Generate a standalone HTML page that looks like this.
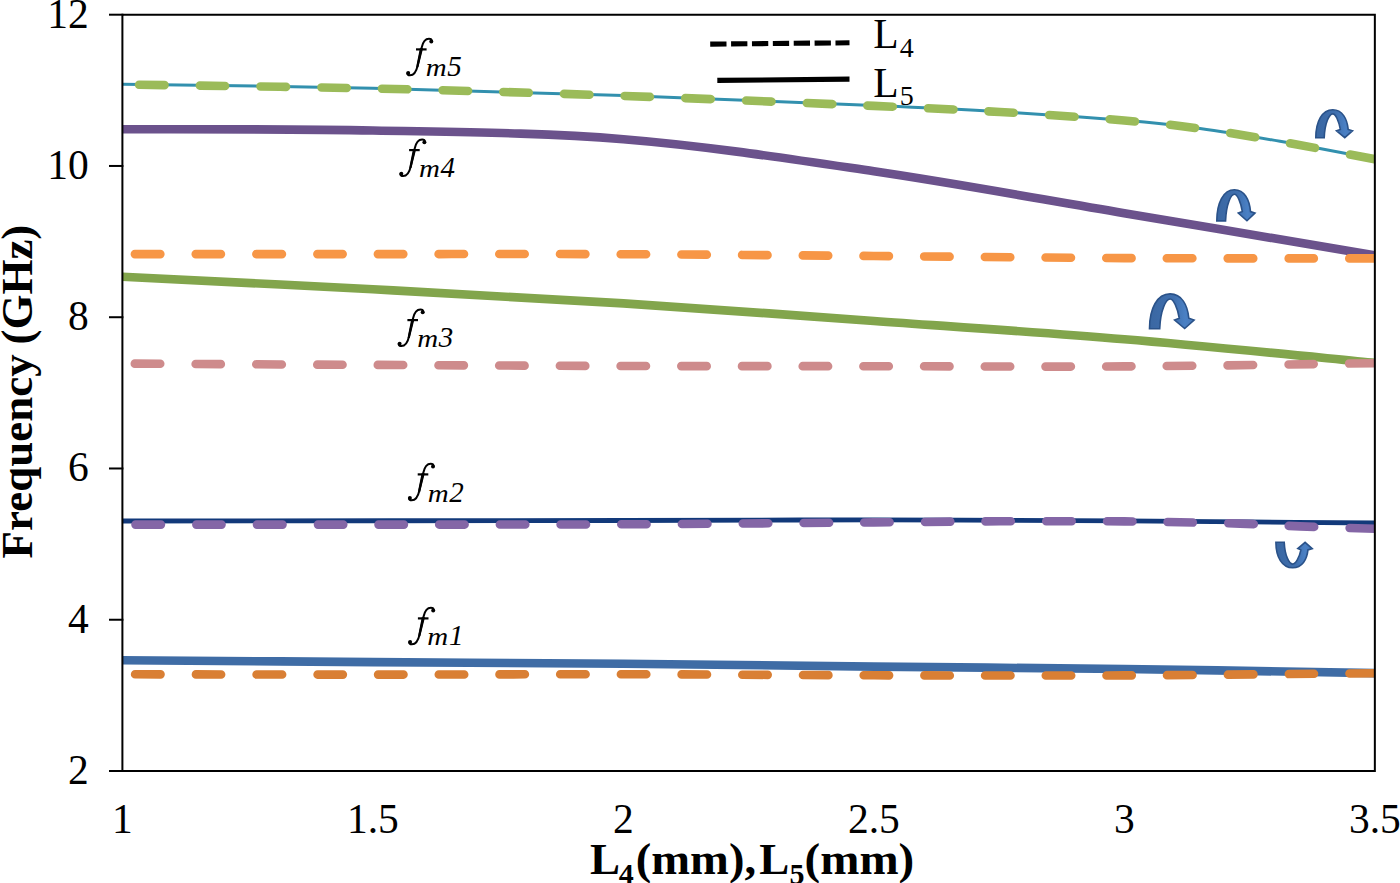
<!DOCTYPE html>
<html><head><meta charset="utf-8"><style>
html,body{margin:0;padding:0;background:#fff;}
body{width:1400px;height:883px;overflow:hidden;}
svg{display:block;}
text{font-family:"Liberation Serif",serif;fill:#000;}
</style></head><body>
<svg width="1400" height="883" viewBox="0 0 1400 883">
<defs>
<linearGradient id="ag" x1="0" y1="0" x2="1" y2="0">
<stop offset="0" stop-color="#3A67A2"/><stop offset="0.55" stop-color="#3F6FAE"/><stop offset="0.8" stop-color="#4A80C4"/><stop offset="1" stop-color="#4677B8"/>
</linearGradient>
<clipPath id="pc"><rect x="122.4" y="0" width="1252.45" height="883"/></clipPath>
</defs>
<rect width="1400" height="883" fill="#fff"/>

<g clip-path="url(#pc)">
<path d="M122.40 84.20 C164.15 84.87 289.40 86.30 372.90 88.20 C456.40 90.10 539.90 92.70 623.40 95.60 C706.90 98.50 811.13 102.92 873.90 105.60 C936.67 108.28 958.27 109.25 1000.00 111.70 C1041.73 114.15 1090.97 117.52 1124.30 120.30 C1157.63 123.08 1174.05 124.90 1200.00 128.40 C1225.95 131.90 1250.86 136.20 1280.00 141.30 C1309.14 146.40 1359.04 156.05 1374.85 159.00" fill="none" stroke="#3290AE" stroke-width="3.00" stroke-linecap="butt" stroke-linejoin="round"/>
<path d="M122.40 129.20 C164.15 129.42 289.40 128.83 372.90 130.50 C456.40 132.17 539.90 132.40 623.40 139.20 C706.90 146.00 790.42 158.97 873.90 171.30 C957.38 183.63 1040.81 199.18 1124.30 213.20 C1207.79 227.22 1333.09 248.37 1374.85 255.40" fill="none" stroke="#6B528C" stroke-width="8.60" stroke-linecap="butt" stroke-linejoin="round"/>
<path d="M122.40 276.70 C164.15 278.80 289.40 284.85 372.90 289.30 C456.40 293.75 539.90 298.12 623.40 303.40 C706.90 308.68 790.42 315.02 873.90 321.00 C957.38 326.98 1040.81 332.33 1124.30 339.30 C1207.79 346.27 1333.09 358.88 1374.85 362.80" fill="none" stroke="#82A54C" stroke-width="8.60" stroke-linecap="butt" stroke-linejoin="round"/>
<path d="M122.40 521.00 C205.90 520.92 498.15 520.68 623.40 520.50 C748.65 520.32 790.42 519.83 873.90 519.90 C957.38 519.97 1061.62 520.57 1124.30 520.90 C1186.98 521.23 1208.24 521.55 1250.00 521.90 C1291.76 522.25 1354.04 522.82 1374.85 523.00" fill="none" stroke="#12397A" stroke-width="4.80" stroke-linecap="butt" stroke-linejoin="round"/>
<path d="M122.40 660.20 C164.15 660.52 289.40 661.51 372.90 662.10 C456.40 662.69 539.90 663.00 623.40 663.75 C706.90 664.50 790.42 665.73 873.90 666.60 C957.38 667.48 1040.81 667.92 1124.30 669.00 C1207.79 670.08 1333.09 672.42 1374.85 673.10" fill="none" stroke="#3F6CA5" stroke-width="8.60" stroke-linecap="butt" stroke-linejoin="round"/>
<path d="M122.40 84.50 C164.15 85.17 289.40 86.60 372.90 88.50 C456.40 90.40 539.90 93.00 623.40 95.90 C706.90 98.80 811.13 103.22 873.90 105.90 C936.67 108.58 958.27 109.57 1000.00 112.00 C1041.73 114.43 1090.97 117.73 1124.30 120.50 C1157.63 123.27 1174.05 125.10 1200.00 128.60 C1225.95 132.10 1250.86 136.40 1280.00 141.50 C1309.14 146.60 1359.04 156.25 1374.85 159.20" fill="none" stroke="#9BBB59" stroke-width="8.60" stroke-linecap="round" stroke-dasharray="25.4 35.3" stroke-dashoffset="-16.80"/>
<path d="M122.40 254.10 C164.15 254.10 289.40 254.08 372.90 254.10 C456.40 254.12 539.90 253.88 623.40 254.20 C706.90 254.52 790.42 255.35 873.90 256.00 C957.38 256.65 1040.81 257.70 1124.30 258.10 C1207.79 258.50 1333.09 258.35 1374.85 258.40" fill="none" stroke="#F79646" stroke-width="8.60" stroke-linecap="round" stroke-dasharray="25.4 35.3" stroke-dashoffset="-12.70"/>
<path d="M122.40 363.60 C164.15 363.82 289.40 364.50 372.90 364.90 C456.40 365.30 539.90 365.78 623.40 366.00 C706.90 366.22 790.42 366.13 873.90 366.20 C957.38 366.27 1040.81 366.90 1124.30 366.40 C1207.79 365.90 1333.09 363.73 1374.85 363.20" fill="none" stroke="#CE8B8C" stroke-width="8.60" stroke-linecap="round" stroke-dasharray="25.4 35.3" stroke-dashoffset="-12.60"/>
<path d="M122.40 524.60 C164.15 524.60 289.40 524.65 372.90 524.60 C456.40 524.55 539.90 524.67 623.40 524.30 C706.90 523.93 811.13 522.90 873.90 522.40 C936.67 521.90 958.27 521.47 1000.00 521.30 C1041.73 521.13 1094.30 521.23 1124.30 521.40 C1154.30 521.57 1160.72 521.93 1180.00 522.30 C1199.28 522.67 1220.00 522.92 1240.00 523.60 C1260.00 524.28 1277.53 525.53 1300.00 526.40 C1322.47 527.27 1362.38 528.40 1374.85 528.80" fill="none" stroke="#8466A6" stroke-width="8.60" stroke-linecap="round" stroke-dasharray="25.4 35.3" stroke-dashoffset="-13.30"/>
<path d="M122.40 674.30 C164.15 674.35 289.40 674.61 372.90 674.60 C456.40 674.59 539.90 674.13 623.40 674.25 C706.90 674.37 790.42 675.11 873.90 675.30 C957.38 675.49 1040.81 675.75 1124.30 675.40 C1207.79 675.05 1333.09 673.57 1374.85 673.20" fill="none" stroke="#D97F34" stroke-width="8.60" stroke-linecap="round" stroke-dasharray="25.4 35.3" stroke-dashoffset="-12.90"/>
</g>
<g stroke="#000" stroke-width="2" fill="none" stroke-linecap="square">
<path d="M122.40 14.70 L1374.85 14.70 L1374.85 771.00 L122.40 771.00 Z"/>
<path d="M110 14.70 H122.40"/>
<path d="M110 165.96 H122.40"/>
<path d="M110 317.22 H122.40"/>
<path d="M110 468.48 H122.40"/>
<path d="M110 619.74 H122.40"/>
<path d="M110 771.00 H122.40"/>
</g>
<text x="88.7" y="27.70" font-size="41.5" text-anchor="end">12</text>
<text x="88.7" y="178.96" font-size="41.5" text-anchor="end">10</text>
<text x="88.7" y="330.22" font-size="41.5" text-anchor="end">8</text>
<text x="88.7" y="481.48" font-size="41.5" text-anchor="end">6</text>
<text x="88.7" y="632.74" font-size="41.5" text-anchor="end">4</text>
<text x="88.7" y="784.00" font-size="41.5" text-anchor="end">2</text>
<text x="122.40" y="832.6" font-size="41.5" text-anchor="middle">1</text>
<text x="372.89" y="832.6" font-size="41.5" text-anchor="middle">1.5</text>
<text x="623.38" y="832.6" font-size="41.5" text-anchor="middle">2</text>
<text x="873.87" y="832.6" font-size="41.5" text-anchor="middle">2.5</text>
<text x="1124.36" y="832.6" font-size="41.5" text-anchor="middle">3</text>
<text x="1374.85" y="832.6" font-size="41.5" text-anchor="middle">3.5</text>
<text x="590.1" y="874" font-size="45" font-weight="bold">L</text>
<text x="618.8" y="883.7" font-size="30" font-weight="bold">4</text>
<text transform="translate(635.8 874) scale(1.035 1)" font-size="45" font-weight="bold">(mm),</text>
<text x="759.2" y="874" font-size="45" font-weight="bold">L</text>
<text x="789.4" y="883.5" font-size="30" font-weight="bold">5</text>
<text transform="translate(804.6 874) scale(1.045 1)" font-size="45" font-weight="bold">(mm)</text>
<text transform="translate(31.6 558.4) rotate(-90)" font-size="45" font-weight="bold">Frequency</text>
<text transform="translate(31.6 558.4) rotate(-90)" x="213.8" font-size="45" font-weight="bold">(GHz)</text>
<path d="M710.2 44.1 L849.5 42.8" stroke="#000" stroke-width="5.1" stroke-dasharray="16.3 4.58" fill="none"/>
<path d="M717.3 80.4 L849.5 79.1" stroke="#000" stroke-width="5.1" fill="none"/>
<text x="873.3" y="48.3" font-size="41.5">L</text><text x="899.75" y="56.9" font-size="28">4</text>
<text x="873.3" y="96.7" font-size="41.5">L</text><text x="899.8" y="105.0" font-size="28">5</text>
<g transform="translate(405.80 37.80)" fill="none" stroke="#000" stroke-linecap="round"><path d="M26 3.4 C26 2 25 1 23.2 1 C19.5 1 17 4.5 15.8 10 L11.8 28 C10.5 34 7.5 37.5 4.2 37.5 C2.6 37.5 1.5 36.6 1.5 35.4" stroke-width="2"/><path d="M14.1 10.5 L17.3 10.5 L13.2 27 L12.6 29.5 L10.5 29.5 L10.8 27 Z" fill="#000" stroke="none"/><path d="M10.2 11.6 H20.8" stroke-width="2.2" stroke-linecap="butt"/><circle cx="25.5" cy="3.8" r="2.0" fill="#000" stroke="none"/><circle cx="2.4" cy="35.3" r="2.0" fill="#000" stroke="none"/></g>
<text transform="translate(425.65 76.40) scale(1 0.9)" font-size="29" font-style="italic">m</text>
<text x="447.19" y="76.40" font-size="29" font-style="italic">5</text>
<g transform="translate(398.90 138.50)" fill="none" stroke="#000" stroke-linecap="round"><path d="M26 3.4 C26 2 25 1 23.2 1 C19.5 1 17 4.5 15.8 10 L11.8 28 C10.5 34 7.5 37.5 4.2 37.5 C2.6 37.5 1.5 36.6 1.5 35.4" stroke-width="2"/><path d="M14.1 10.5 L17.3 10.5 L13.2 27 L12.6 29.5 L10.5 29.5 L10.8 27 Z" fill="#000" stroke="none"/><path d="M10.2 11.6 H20.8" stroke-width="2.2" stroke-linecap="butt"/><circle cx="25.5" cy="3.8" r="2.0" fill="#000" stroke="none"/><circle cx="2.4" cy="35.3" r="2.0" fill="#000" stroke="none"/></g>
<text transform="translate(418.95 176.90) scale(1 0.9)" font-size="29" font-style="italic">m</text>
<text x="440.49" y="176.90" font-size="29" font-style="italic">4</text>
<g transform="translate(397.20 308.50)" fill="none" stroke="#000" stroke-linecap="round"><path d="M26 3.4 C26 2 25 1 23.2 1 C19.5 1 17 4.5 15.8 10 L11.8 28 C10.5 34 7.5 37.5 4.2 37.5 C2.6 37.5 1.5 36.6 1.5 35.4" stroke-width="2"/><path d="M14.1 10.5 L17.3 10.5 L13.2 27 L12.6 29.5 L10.5 29.5 L10.8 27 Z" fill="#000" stroke="none"/><path d="M10.2 11.6 H20.8" stroke-width="2.2" stroke-linecap="butt"/><circle cx="25.5" cy="3.8" r="2.0" fill="#000" stroke="none"/><circle cx="2.4" cy="35.3" r="2.0" fill="#000" stroke="none"/></g>
<text transform="translate(417.25 346.70) scale(1 0.9)" font-size="29" font-style="italic">m</text>
<text x="438.79" y="346.70" font-size="29" font-style="italic">3</text>
<g transform="translate(407.50 462.80)" fill="none" stroke="#000" stroke-linecap="round"><path d="M26 3.4 C26 2 25 1 23.2 1 C19.5 1 17 4.5 15.8 10 L11.8 28 C10.5 34 7.5 37.5 4.2 37.5 C2.6 37.5 1.5 36.6 1.5 35.4" stroke-width="2"/><path d="M14.1 10.5 L17.3 10.5 L13.2 27 L12.6 29.5 L10.5 29.5 L10.8 27 Z" fill="#000" stroke="none"/><path d="M10.2 11.6 H20.8" stroke-width="2.2" stroke-linecap="butt"/><circle cx="25.5" cy="3.8" r="2.0" fill="#000" stroke="none"/><circle cx="2.4" cy="35.3" r="2.0" fill="#000" stroke="none"/></g>
<text transform="translate(427.65 501.60) scale(1 0.9)" font-size="29" font-style="italic">m</text>
<text x="449.19" y="501.60" font-size="29" font-style="italic">2</text>
<g transform="translate(407.70 606.80)" fill="none" stroke="#000" stroke-linecap="round"><path d="M26 3.4 C26 2 25 1 23.2 1 C19.5 1 17 4.5 15.8 10 L11.8 28 C10.5 34 7.5 37.5 4.2 37.5 C2.6 37.5 1.5 36.6 1.5 35.4" stroke-width="2"/><path d="M14.1 10.5 L17.3 10.5 L13.2 27 L12.6 29.5 L10.5 29.5 L10.8 27 Z" fill="#000" stroke="none"/><path d="M10.2 11.6 H20.8" stroke-width="2.2" stroke-linecap="butt"/><circle cx="25.5" cy="3.8" r="2.0" fill="#000" stroke="none"/><circle cx="2.4" cy="35.3" r="2.0" fill="#000" stroke="none"/></g>
<text transform="translate(427.35 645.20) scale(1 0.9)" font-size="29" font-style="italic">m</text>
<text x="448.89" y="645.20" font-size="29" font-style="italic">1</text>
<path d="M 1315.80 137.80 C 1315.80 121.56 1322.07 109.80 1332.77 109.80 C 1342.37 109.80 1347.16 118.76 1348.20 129.40 L 1352.52 130.80 L 1344.77 137.66 L 1336.46 130.80 L 1340.34 129.40 C 1338.86 121.00 1335.54 113.86 1332.77 113.86 C 1329.45 113.86 1324.84 122.40 1324.21 137.80 Z " fill="url(#ag)" stroke="#2A5289" stroke-width="1.6" stroke-linejoin="miter"/>
<path d="M 1216.80 220.90 C 1216.80 202.86 1223.33 189.80 1234.46 189.80 C 1244.45 189.80 1249.44 199.75 1250.52 211.57 L 1255.01 213.12 L 1246.94 220.74 L 1238.30 213.12 L 1242.34 211.57 C 1240.80 202.24 1237.34 194.31 1234.46 194.31 C 1231.01 194.31 1226.21 203.80 1225.56 220.90 Z " fill="url(#ag)" stroke="#2A5289" stroke-width="1.6" stroke-linejoin="miter"/>
<path d="M 1149.50 328.70 C 1149.50 308.52 1157.12 293.90 1170.11 293.90 C 1181.76 293.90 1187.58 305.04 1188.83 318.26 L 1194.08 320.00 L 1184.67 328.53 L 1174.59 320.00 L 1179.29 318.26 C 1177.50 307.82 1173.47 298.95 1170.11 298.95 C 1166.08 298.95 1160.48 309.56 1159.71 328.70 Z " fill="url(#ag)" stroke="#2A5289" stroke-width="1.6" stroke-linejoin="miter"/>
<path d="M 1275.90 542.20 C 1275.90 557.05 1282.11 567.80 1292.69 567.80 C 1302.18 567.80 1306.93 559.61 1307.95 549.88 L 1312.22 548.60 L 1305.10 542.33 L 1297.80 548.60 L 1300.90 549.88 C 1299.44 557.56 1295.43 564.09 1292.69 564.09 C 1289.41 564.09 1284.84 556.28 1284.22 542.20 Z " fill="url(#ag)" stroke="#2A5289" stroke-width="1.6" stroke-linejoin="miter"/>
</svg></body></html>
